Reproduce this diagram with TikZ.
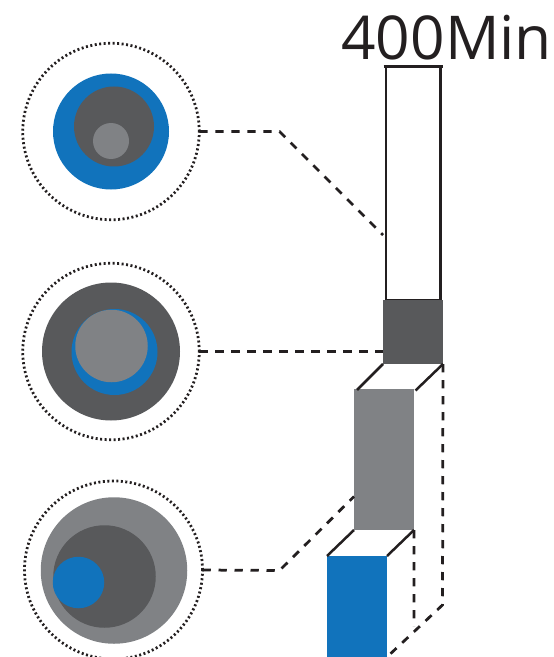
\documentclass[tikz,border=0pt]{standalone}
\usepackage{fontspec}
\setmainfont{Open Sans}
\definecolor{stageblue}{HTML}{1173BC}
\definecolor{stagedark}{HTML}{58595B}
\definecolor{stagegray}{HTML}{808285}
\definecolor{inkline}{HTML}{231F20}
\tikzset{
	disc/.style={shape=circle, draw=none, inner sep=0pt, outer sep=0pt},
	ring/.style={shape=circle, draw=inkline, line width=0.055cm, dash pattern=on 0.04cm off 0.05cm, inner sep=0pt, outer sep=0pt, minimum size=3.53cm},
	stage/.style={shape=rectangle, draw=none, inner sep=0pt, outer sep=0pt, minimum width=1.2cm},
	leader/.style={draw=inkline, line width=0.055cm, dash pattern=on 0.165cm off 0.155cm},
	wall/.style={draw=inkline, line width=0.05cm}
}
\begin{document}
\begin{tikzpicture}
	\useasboundingbox (0, 0) rectangle (11.06, -13.14);

	\coordinate (bend1) at (5.59, -2.63);
	\coordinate (end1) at (7.66, -4.70);
	\coordinate (bend3) at (5.59, -11.41);
	\coordinate (end3) at (7.08, -9.93);
	\coordinate (backfoot) at (8.85, -12.10);
	\coordinate (midfoot) at (8.28, -12.52);
	\coordinate (capleft) at (7.67, -1.33);
	\coordinate (capright) at (8.85, -1.33);

	\node[ring] (ring1) at (2.22, -2.63) {};
	\node[disc, fill=stageblue, minimum size=2.32cm] (blue1) at (2.22, -2.63) {};
	\node[disc, fill=stagedark, minimum size=1.6cm] (dark1) at (2.28, -2.53) {};
	\node[disc, fill=stagegray, minimum size=0.72cm] (gray1) at (2.22, -2.82) {};

	\node[ring] (ring2) at (2.22, -7.03) {};
	\node[disc, fill=stagedark, minimum size=2.76cm] (dark2) at (2.22, -7.03) {};
	\node[disc, fill=stageblue, minimum size=1.72cm] (blue2) at (2.29, -7.04) {};
	\node[disc, fill=stagegray, minimum size=1.45cm] (gray2) at (2.23, -6.92) {};

	\node[ring, minimum size=3.56cm] (ring3) at (2.27, -11.40) {};
	\node[disc, fill=stagegray, minimum size=2.93cm] (gray3) at (2.28, -11.41) {};
	\node[disc, fill=stagedark, minimum size=2.05cm] (dark3) at (2.09, -11.53) {};
	\node[disc, fill=stageblue, minimum size=1.03cm] (blue3) at (1.57, -11.65) {};

	\node[shape=rectangle, wall, inner sep=0pt, minimum width=1.09cm, minimum height=4.66cm] (tube) at (8.26, -3.67) {};
	\node[stage, fill=stagedark, minimum height=1.28cm] (darkbox) at (8.26, -6.64) {};
	\node[stage, fill=stagegray, minimum height=2.82cm] (graybox) at (7.68, -9.19) {};
	\node[stage, fill=stageblue, minimum height=2.02cm] (bluebox) at (7.14, -12.13) {};

	\node[anchor=base west, inner sep=0pt, font=\fontsize{34.4pt}{34.4pt}\selectfont, text=inkline] (title) at (6.82, -1.19) {400Min};

	\path [wall] (capleft) -- (capright);

	\path [wall] (darkbox.south west) -- ([xshift=0.06cm, yshift=-0.02cm]graybox.north west);
	\path [wall] (darkbox.south east) -- ([xshift=0.03cm, yshift=-0.03cm]graybox.north east);
	\path [wall] (graybox.south west) -- (bluebox.north west);
	\path [wall] (graybox.south east) -- (bluebox.north east);

	\path [leader] (ring1.east) -- (bend1) -- (end1);
	\path [leader] (ring2.east) -- (ring2.east -| darkbox.west);
	\path [leader] (ring3.east) -- (bend3) -- (end3);

	\path [leader] (darkbox.south east) -- (backfoot) -- (bluebox.south east);
	\path [leader] (graybox.south east) -- (midfoot);
\end{tikzpicture}
\end{document}
